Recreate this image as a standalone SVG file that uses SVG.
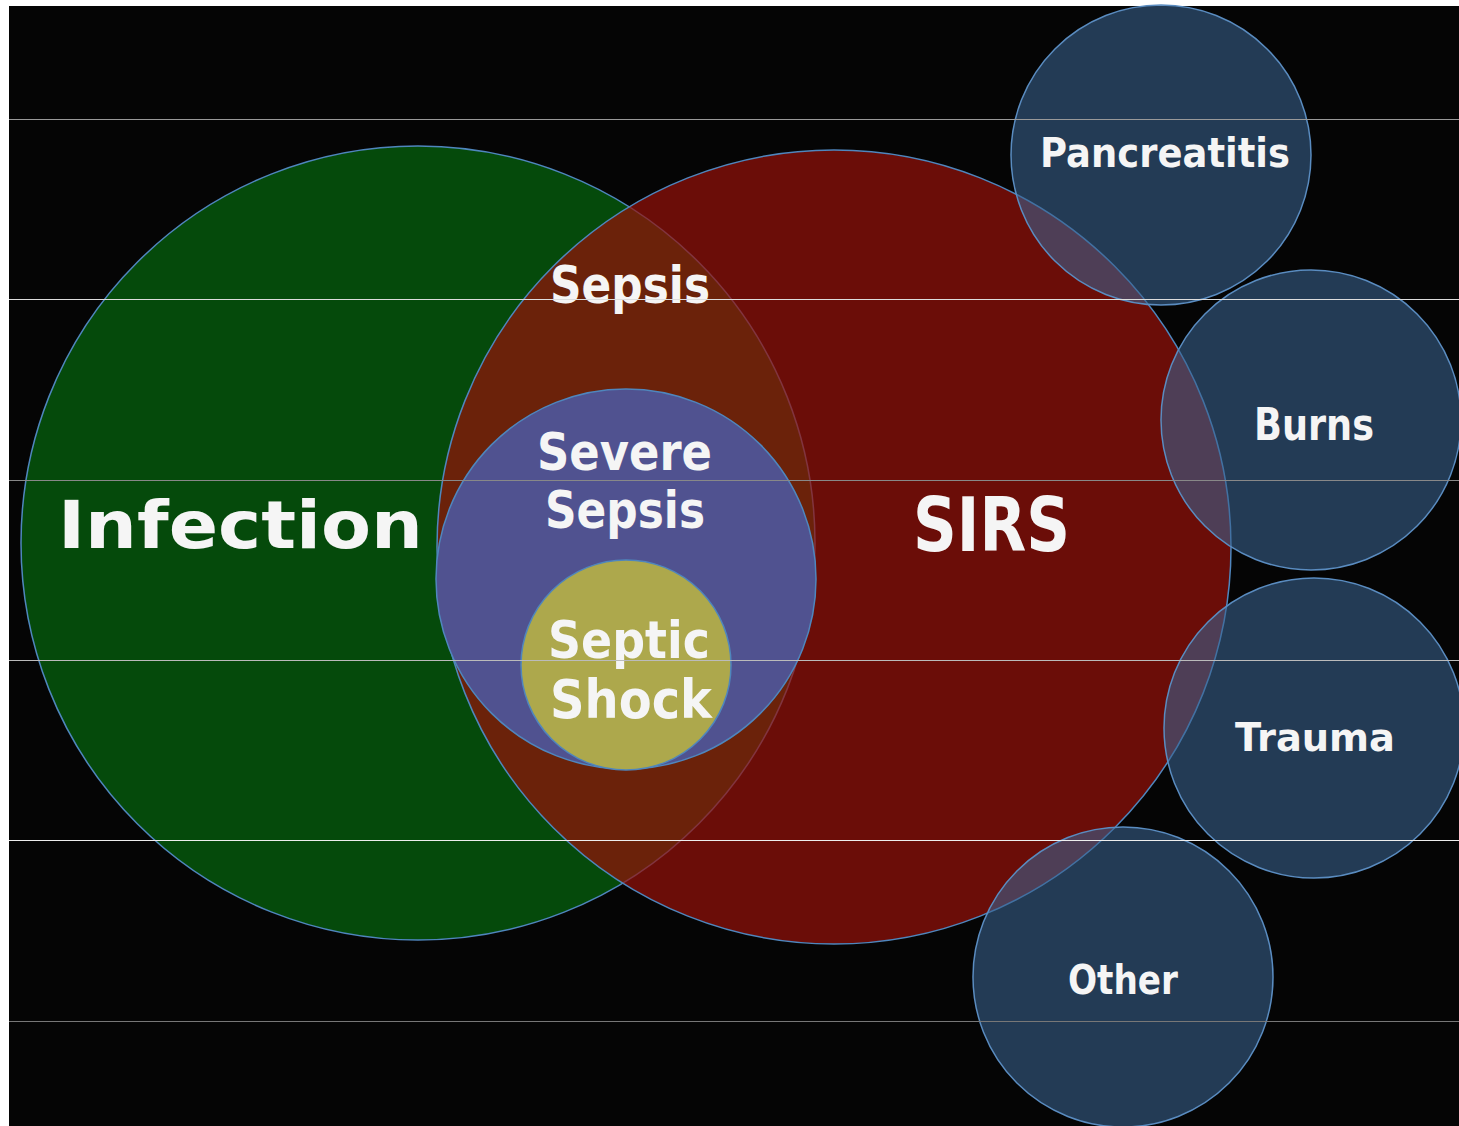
<svg xmlns="http://www.w3.org/2000/svg" width="1459" height="1126" viewBox="0 0 1459 1126">
<style>
.lbl{font-family:"DejaVu Sans","Liberation Sans",sans-serif;fill:#f5f5f5;text-anchor:start;font-weight:bold}
.sm{fill:#39628f;fill-opacity:0.58;stroke:#5a8cc0;stroke-width:1.5}
.big{stroke:#4f86bd;stroke-width:1.5}
</style>
<rect x="0" y="0" width="1459" height="1126" fill="#ffffff"/>
<rect x="9" y="6" width="1450" height="1120" fill="#050505"/>
<g id="infection">
<circle class="big" cx="418" cy="543" r="397" fill="#054a0b"/>
</g>
<g id="sirs">
<circle class="big" cx="834" cy="547" r="397" fill="#97110a" fill-opacity="0.7"/>
</g>
<g id="severe-sepsis">
<circle class="big" cx="626" cy="579" r="190" fill="#505290"/>
</g>
<g id="septic-shock">
<circle class="big" cx="626" cy="665" r="105" fill="#ada84c"/>
</g>
<g id="pancreatitis"><circle class="sm" cx="1161" cy="155" r="150"/></g>
<g id="burns"><circle class="sm" cx="1311" cy="420" r="150"/></g>
<g id="trauma"><circle class="sm" cx="1314" cy="728" r="150"/></g>
<g id="other"><circle class="sm" cx="1123" cy="977" r="150"/></g>
<g id="labels">
<text class="lbl" x="58" y="548" font-size="66" textLength="365" lengthAdjust="spacingAndGlyphs">Infection</text>
<text class="lbl" x="913" y="551" font-size="74" textLength="157" lengthAdjust="spacingAndGlyphs">SIRS</text>
<text class="lbl" x="550" y="303" font-size="51" textLength="160" lengthAdjust="spacingAndGlyphs">Sepsis</text>
<text class="lbl" x="537" y="470" font-size="51" textLength="175" lengthAdjust="spacingAndGlyphs">Severe</text>
<text class="lbl" x="545" y="528" font-size="51" textLength="160" lengthAdjust="spacingAndGlyphs">Sepsis</text>
<text class="lbl" x="548" y="658" font-size="52" textLength="162" lengthAdjust="spacingAndGlyphs">Septic</text>
<text class="lbl" x="550" y="718" font-size="54" textLength="162" lengthAdjust="spacingAndGlyphs">Shock</text>
<text class="lbl" x="1040" y="167" font-size="41" textLength="250" lengthAdjust="spacingAndGlyphs">Pancreatitis</text>
<text class="lbl" x="1254" y="440" font-size="44" textLength="120" lengthAdjust="spacingAndGlyphs">Burns</text>
<text class="lbl" x="1235" y="751" font-size="39" textLength="160" lengthAdjust="spacingAndGlyphs">Trauma</text>
<text class="lbl" x="1068" y="994" font-size="40" textLength="110" lengthAdjust="spacingAndGlyphs">Other</text>
</g>
<g id="gridlines" stroke-width="1">
<line x1="9" y1="119.5" x2="1459" y2="119.5" stroke="#999999"/>
<line x1="9" y1="299.5" x2="1459" y2="299.5" stroke="#dddddd"/>
<line x1="9" y1="480.5" x2="1459" y2="480.5" stroke="#888888"/>
<line x1="9" y1="660.5" x2="1459" y2="660.5" stroke="#bbbbbb"/>
<line x1="9" y1="840.5" x2="1459" y2="840.5" stroke="#eeeeee"/>
<line x1="9" y1="1021.5" x2="1459" y2="1021.5" stroke="#777777"/>
</g>
</svg>
